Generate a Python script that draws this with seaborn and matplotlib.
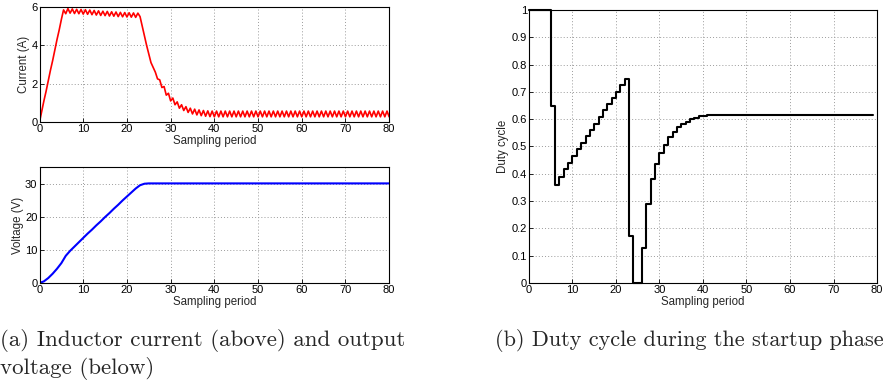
import numpy as np
import pandas as pd
import matplotlib
matplotlib.use("Agg")
import matplotlib.pyplot as plt
import seaborn as sns

# ---------------- data ----------------
# inductor current, sampled every half sampling period (t = 0, 0.5, ..., 80)
current_t = [i * 0.5 for i in range(161)]
current_a = [
    0.0, 0.55, 1.1, 1.6, 2.15, 2.7, 3.2, 3.75, 4.3, 4.8, 5.35,
    5.85, 5.65, 5.92, 5.68, 5.9, 5.66, 5.88, 5.65, 5.87, 5.63,
    5.86, 5.62, 5.84, 5.6, 5.82, 5.58, 5.8, 5.56, 5.78, 5.55,
    5.77, 5.53, 5.75, 5.52, 5.74, 5.5, 5.72, 5.49, 5.71, 5.48,
    5.7, 5.47, 5.69, 5.46, 5.68, 5.5, 5.0, 4.5, 4.0, 3.55,
    3.1, 2.85, 2.6, 2.25, 2.2, 1.8, 1.85, 1.4, 1.5, 1.1,
    1.25, 0.9, 1.05, 0.72, 0.9, 0.6, 0.8, 0.5, 0.72, 0.42,
    0.67, 0.37, 0.63, 0.33, 0.6, 0.3, 0.58, 0.28, 0.57, 0.27,
    0.57, 0.27, 0.57, 0.27, 0.57, 0.27, 0.57, 0.27, 0.57, 0.27,
    0.57, 0.27, 0.57, 0.27, 0.57, 0.27, 0.57, 0.27, 0.57, 0.27,
    0.57, 0.27, 0.57, 0.27, 0.57, 0.27, 0.57, 0.27, 0.57, 0.27,
    0.57, 0.27, 0.57, 0.27, 0.57, 0.27, 0.57, 0.27, 0.57, 0.27,
    0.57, 0.27, 0.57, 0.27, 0.57, 0.27, 0.57, 0.27, 0.57, 0.27,
    0.57, 0.27, 0.57, 0.27, 0.57, 0.27, 0.57, 0.27, 0.57, 0.27,
    0.57, 0.27, 0.57, 0.27, 0.57, 0.27, 0.57, 0.27, 0.57, 0.27,
    0.57, 0.27, 0.57, 0.27, 0.57, 0.27, 0.57, 0.27, 0.57, 0.27,
]

# output voltage at each sampling period (0..80)
voltage_t = list(range(81))
voltage_v = [
    0.0, 0.5, 1.5, 2.8, 4.3, 6.0, 8.2, 9.7, 11.0, 12.3,
    13.6, 14.9, 16.1, 17.4, 18.6, 19.9, 21.1, 22.4, 23.6, 24.9,
    26.1, 27.3, 28.5, 29.5, 29.95, 30.05, 30.05, 30.05, 30.05, 30.05,
    30.05, 30.05, 30.05, 30.05, 30.05, 30.05, 30.05, 30.05, 30.05, 30.05,
    30.05, 30.05, 30.05, 30.05, 30.05, 30.05, 30.05, 30.05, 30.05, 30.05,
    30.05, 30.05, 30.05, 30.05, 30.05, 30.05, 30.05, 30.05, 30.05, 30.05,
    30.05, 30.05, 30.05, 30.05, 30.05, 30.05, 30.05, 30.05, 30.05, 30.05,
    30.05, 30.05, 30.05, 30.05, 30.05, 30.05, 30.05, 30.05, 30.05, 30.05,
    30.05,
]

# duty cycle at each sampling period (0..79)
duty_k = list(range(80))
duty_d = [
    1.0, 1.0, 1.0, 1.0, 1.0, 0.65, 0.358, 0.39, 0.417, 0.441,
    0.466, 0.489, 0.513, 0.538, 0.56, 0.584, 0.609, 0.633, 0.655, 0.678,
    0.70, 0.724, 0.747, 0.174, 0.0, 0.0, 0.130, 0.289, 0.380, 0.435,
    0.475, 0.506, 0.534, 0.554, 0.571, 0.582, 0.590, 0.599, 0.606, 0.611,
    0.613, 0.614, 0.614, 0.614, 0.614, 0.614, 0.614, 0.614, 0.614, 0.614,
    0.614, 0.614, 0.614, 0.614, 0.614, 0.614, 0.614, 0.614, 0.614, 0.614,
    0.614, 0.614, 0.614, 0.614, 0.614, 0.614, 0.614, 0.614, 0.614, 0.614,
    0.614, 0.614, 0.614, 0.614, 0.614, 0.614, 0.614, 0.614, 0.614, 0.614,
]

x_ticks = [0, 10, 20, 30, 40, 50, 60, 70, 80]
current_ticks = [0, 2, 4, 6]
voltage_ticks = [0, 10, 20, 30]
duty_ticks = [0, 0.1, 0.2, 0.3, 0.4, 0.5, 0.6, 0.7, 0.8, 0.9, 1]
duty_ticklabels = ["0", "0.1", "0.2", "0.3", "0.4", "0.5", "0.6", "0.7", "0.8", "0.9", "1"]

cap_a1 = "(a) Inductor current (above) and output"
cap_a2 = "voltage (below)"
cap_b = "(b) Duty cycle during the startup phase"

# ---------------- style ----------------
sns.set_style("white")
plt.rcParams["font.family"] = ["Liberation Sans", "DejaVu Sans"]
TICK_FS = 8.0
LAB_FS = 8.3

fig = plt.figure(figsize=(8.92, 3.81), dpi=100)
ax_i = fig.add_axes([0.0443, 0.6798, 0.3920, 0.3018])
ax_v = fig.add_axes([0.0443, 0.2572, 0.3920, 0.3045])
ax_d = fig.add_axes([0.5930, 0.2572, 0.3902, 0.7166])

df_i = pd.DataFrame({"t": current_t, "i": current_a})
df_v = pd.DataFrame({"t": voltage_t, "v": voltage_v})
df_d = pd.DataFrame({"k": duty_k, "d": duty_d})

sns.lineplot(data=df_i, x="t", y="i", ax=ax_i, color="#ff0000", lw=1.2,
             estimator=None, sort=False)
sns.lineplot(data=df_v, x="t", y="v", ax=ax_v, color="#0000ff", lw=1.5,
             estimator=None, sort=False)
sns.lineplot(data=df_d, x="k", y="d", ax=ax_d, color="black", lw=1.5,
             estimator=None, sort=False, drawstyle="steps-post", clip_on=False,
             zorder=5)


def style(ax, ylim, yticks, ylabel, ylabelpad, yticklabels=None):
    ax.set_xlim(0, 80)
    ax.set_ylim(*ylim)
    ax.set_xticks(x_ticks)
    ax.set_yticks(yticks)
    if yticklabels is not None:
        ax.set_yticklabels(yticklabels)
    ax.grid(True, color="#9a9a9a", linestyle=(0, (1, 2.2)), linewidth=0.7)
    for s in ax.spines.values():
        s.set_visible(True)
        s.set_color("black")
        s.set_linewidth(0.8)
    ax.tick_params(direction="in", length=3, width=0.6, labelsize=TICK_FS,
                   pad=1.5, colors="black", top=False, right=False,
                   bottom=True, left=True)
    ax.set_xlabel("Sampling period", fontsize=LAB_FS, labelpad=0.5)
    ax.set_ylabel(ylabel, fontsize=LAB_FS, labelpad=ylabelpad)


style(ax_i, (0, 6), current_ticks, "Current (A)", 1)
style(ax_v, (0, 35), voltage_ticks, "Voltage (V)", 1)
style(ax_d, (0, 1), duty_ticks, "Duty cycle", 2, duty_ticklabels)

fig.text(0.0, 1 - 346 / 381, cap_a1, fontfamily="cmr10", fontsize=16.5,
         ha="left", va="baseline")
fig.text(0.0, 1 - 374 / 381, cap_a2, fontfamily="cmr10", fontsize=16.5,
         ha="left", va="baseline")
fig.text(495 / 892, 1 - 346 / 381, cap_b, fontfamily="cmr10", fontsize=16.0,
         ha="left", va="baseline")

fig.savefig("out.png", dpi=100)
